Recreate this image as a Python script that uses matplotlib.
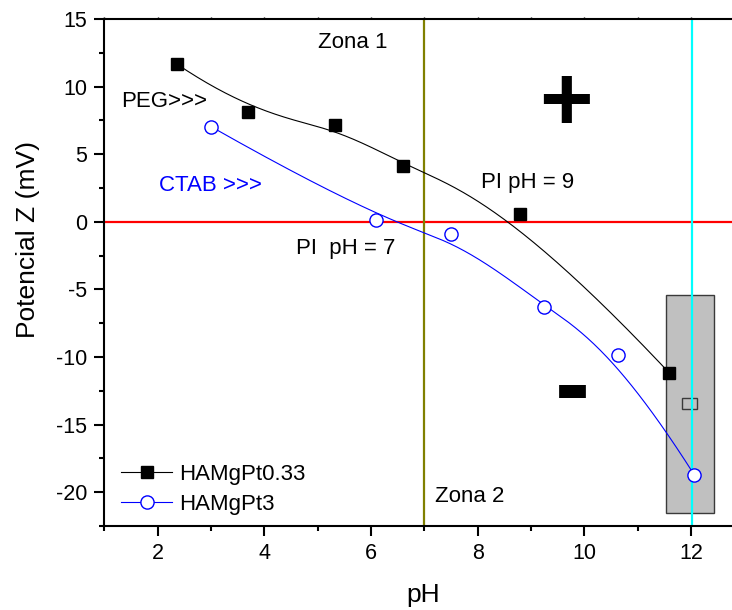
import numpy as np
import matplotlib
matplotlib.use("Agg")
import matplotlib.pyplot as plt
from matplotlib.patches import Rectangle
from matplotlib.ticker import MultipleLocator

plt.rcParams['font.family'] = ['Liberation Sans', 'DejaVu Sans']
plt.rcParams['axes.unicode_minus'] = False

# ---- data ----
ph_peg = [2.36, 3.69, 5.32, 6.60, 8.79, 11.59]
z_peg = [11.67, 8.13, 7.15, 4.13, 0.59, -11.16]
ph_ctab = [3.01, 6.09, 7.50, 9.24, 10.63, 12.06]
z_ctab = [7.02, 0.14, -0.89, -6.29, -9.83, -18.70]
label_peg = "HAMgPt0.33"
label_ctab = "HAMgPt3"
x_ticks = [2, 4, 6, 8, 10, 12]
y_ticks = [-20, -15, -10, -5, 0, 5, 10, 15]
pi_line = 0.0
zone_split = 7.0
cyan_ph = 12.02
box_x = (11.54, 12.44)
box_y = (-21.53, -5.45)
small_box_x = (11.83, 12.11)
small_box_y = (-13.85, -13.0)


def bspline(xs, ys, n=300):
    """Clamped uniform cubic B-spline using the data as control points (Origin style)."""
    P = np.column_stack([xs, ys]).astype(float)
    m = len(P)
    k = 3
    knots = np.array([0] * (k + 1) + list(range(1, m - k)) + [m - k] * (k + 1), float)
    t = np.linspace(0, m - k, n)
    t[-1] -= 1e-9

    def N(i, p, t):
        if p == 0:
            return np.where((knots[i] <= t) & (t < knots[i + 1]), 1.0, 0.0)
        a = 0.0
        d1 = knots[i + p] - knots[i]
        if d1 > 0:
            a = (t - knots[i]) / d1 * N(i, p - 1, t)
        b = 0.0
        d2 = knots[i + p + 1] - knots[i + 1]
        if d2 > 0:
            b = (knots[i + p + 1] - t) / d2 * N(i + 1, p - 1, t)
        return a + b

    B = np.array([N(i, k, t) for i in range(m)])
    C = B.T @ P
    return C[:, 0], C[:, 1]


fig = plt.figure(figsize=(7.32, 6.10), dpi=100)
W, H = 732, 610
ax_left, ax_right, ax_top, ax_bot = 104.3, 732, 19, 526
ax = fig.add_axes([ax_left / W, (H - ax_bot) / H, (ax_right - ax_left) / W, (ax_bot - ax_top) / H])

xmin = 1.0
xmax = xmin + (ax_right - ax_left) / 53.33
ax.set_xlim(xmin, xmax)
ax.set_ylim(-22.5, 15)

# reference lines and box
ax.add_patch(Rectangle((box_x[0], box_y[0]), box_x[1] - box_x[0], box_y[1] - box_y[0],
                       facecolor='#C0C0C0', edgecolor='#3a3a3a', lw=1.0, zorder=1))
ax.add_patch(Rectangle((small_box_x[0], small_box_y[0]), small_box_x[1] - small_box_x[0],
                       small_box_y[1] - small_box_y[0],
                       facecolor='none', edgecolor='#3a3a3a', lw=1.0, zorder=1.1))
ax.axhline(pi_line, color='#FF0000', lw=1.6, zorder=2)
ax.axvline(zone_split, color='#808000', lw=1.6, zorder=2.1)
ax.axvline(cyan_ph, color='#00FFFF', lw=1.6, zorder=2.2)

# smoothed curves
sx, sy = bspline(ph_peg, z_peg)
ax.plot(sx, sy, color='black', lw=0.8, zorder=3)
sx, sy = bspline(ph_ctab, z_ctab)
ax.plot(sx, sy, color='#0000FF', lw=0.8, zorder=3)

# markers
ax.plot(ph_peg, z_peg, ls='none', marker='s', ms=8.5, color='black', zorder=4)
ax.plot(ph_ctab, z_ctab, ls='none', marker='o', ms=9.5, mfc='white', mec='#0000FF',
        mew=1.0, zorder=4)

# legend proxies
h1, = ax.plot([], [], color='black', lw=0.8, marker='s', ms=8.5, label=label_peg)
h2, = ax.plot([], [], color='#0000FF', lw=0.8, marker='o', ms=9.5, mfc='white',
              mec='#0000FF', mew=1.0, label=label_ctab)
leg = ax.legend(handles=[h1, h2], loc='upper left',
                bbox_to_anchor=((121 - ax_left) / (ax_right - ax_left), (ax_bot - 464) / (ax_bot - ax_top)),
                frameon=False, fontsize=16, handlelength=2.3, handletextpad=0.3,
                labelspacing=0.4, borderpad=0, borderaxespad=0)

# annotations
fs = 16
ax.text(5.0, 12.86, "Zona 1", fontsize=fs, va='baseline', ha='left')
ax.text(7.21, -20.7, "Zona 2", fontsize=fs, va='baseline', ha='left')
ax.text(1.31, 8.5, "PEG>>>", fontsize=fs, va='baseline', ha='left')
ax.text(2.02, 2.29, "CTAB >>>", fontsize=fs, va='baseline', ha='left', color='#0000FF')
ax.text(8.06, 2.51, "PI pH = 9", fontsize=fs, va='baseline', ha='left')
ax.text(4.59, -2.37, "PI  pH = 7", fontsize=fs, va='baseline', ha='left')
ax.text(9.66, 9.3, "+", fontsize=66, fontweight='bold', va='center_baseline', ha='center')
ax.text(9.77, -11.75, "-", fontsize=76, fontweight='bold', va='center_baseline', ha='center')

# axes styling
for s in ['left', 'bottom', 'top']:
    ax.spines[s].set_linewidth(1.5)
ax.spines['right'].set_visible(False)
ax.set_xticks(x_ticks)
ax.set_yticks(y_ticks)
ax.xaxis.set_minor_locator(MultipleLocator(1))
ax.yaxis.set_minor_locator(MultipleLocator(2.5))
ax.tick_params(axis='both', which='major', direction='out', length=7.2, width=1.5,
               labelsize=15.5, pad=5)
ax.tick_params(axis='both', which='minor', direction='out', length=3.6, width=1.5)
ax.xaxis.set_tick_params(which='both', top=True, labeltop=False)
for t in ax.xaxis.get_major_ticks() + ax.xaxis.get_minor_ticks():
    t.tick2line.set_markersize(1.5)
    t.tick2line.set_markeredgewidth(1.0)

ax.set_xlabel("pH", fontsize=19)
ax.set_ylabel("Potencial Z (mV)", fontsize=19)
ax.xaxis.set_label_coords((423 - ax_left) / (ax_right - ax_left), -(595 - ax_bot) / (ax_bot - ax_top))
ax.yaxis.set_label_coords(-(ax_left - 28) / (ax_right - ax_left), (ax_bot - 240) / (ax_bot - ax_top))
ax.xaxis.label.set_va('center')
ax.yaxis.label.set_va('center')

fig.savefig("out.png", dpi=100)
